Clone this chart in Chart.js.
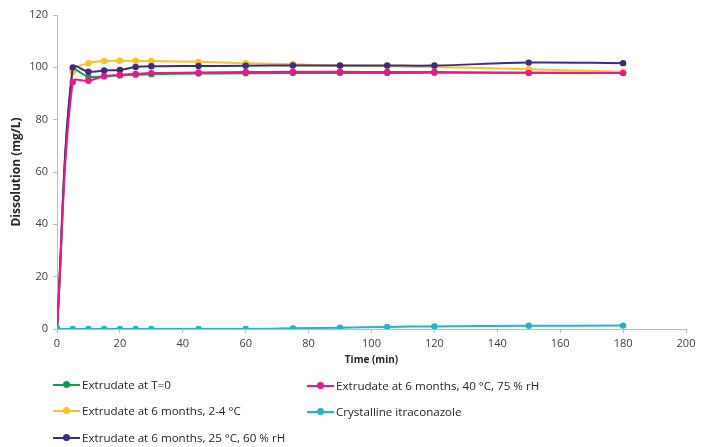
<!DOCTYPE html>
<html><head><meta charset="utf-8">
<script src="https://cdn.jsdelivr.net/npm/chart.js@4.4.1/dist/chart.umd.min.js"></script>
<style>
html,body{margin:0;padding:0;background:#fff;}
#wrap{position:relative;width:707px;height:447px;}
#c{position:absolute;left:0;top:0;}
.lg{position:absolute;font-family:"Open Sans",sans-serif;font-size:11.6px;color:#262626;white-space:nowrap;line-height:14px;}
.mk{position:absolute;width:27px;height:2px;}
.mk i{position:absolute;left:10px;top:-3px;width:7px;height:7px;border-radius:50%;}
.lg span.t{position:absolute;}
</style></head><body>
<div id="wrap"><canvas id="c" width="707" height="447"></canvas></div>
<script>
const times = [0,5,10,15,20,25,30,45,60,75,90,105,120,150,180];
const seriesNames = ["Extrudate at T=0","Extrudate at 6 months, 2-4 °C","Extrudate at 6 months, 25 °C, 60 % rH","Extrudate at 6 months, 40 °C, 75 % rH","Crystalline itraconazole"];
const extrudateT0 = [0,98.7,96.4,96.6,96.9,97.2,97.4,97.6,97.7,97.8,97.8,97.8,97.9,97.9,97.9];
const extrudate24 = [0,98.3,101.6,102.4,102.5,102.5,102.4,102.1,101.6,101.2,100.6,100.4,100.1,99.3,98.3];
const extrudate25 = [0,100.0,98.3,98.8,99.0,100.1,100.4,100.5,100.6,100.7,100.7,100.7,100.7,101.8,101.6];
const extrudate40 = [0,94.4,94.9,96.6,97.1,97.5,97.8,98.0,98.2,98.3,98.3,98.2,98.2,97.9,97.8];
const crystalline = [0,0,0,0,0,0,0,0,0,0.25,0.5,0.8,1.0,1.25,1.3];
const xTicks = [0,20,40,60,80,100,120,140,160,180,200];
const yTicks = [0,20,40,60,80,100,120];
const colors = ["#139a4c","#fdc12a","#3e2b80","#e9188b","#22b5c8"];

const allSeries = [extrudateT0, extrudate24, extrudate25, extrudate40, crystalline];
const datasets = allSeries.map((vals,i)=>({
  label: seriesNames[i],
  data: times.map((t,j)=>({x:t,y:vals[j]})),
  borderColor: colors[i], backgroundColor: colors[i],
  pointBackgroundColor: colors[i], pointBorderColor: colors[i],
  borderWidth: 2, pointRadius: 3.2, pointBorderWidth: 0,
  tension: 0.35, fill:false, order: 5-i
}));

const tickFont = {family:"Open Sans", size:11};
new Chart(document.getElementById('c'), {
  type:'line',
  data:{datasets},
  options:{
    responsive:false, animation:false, devicePixelRatio:1,
    layout:{padding:{left:0,right:21,top:15,bottom:0}},
    plugins:{legend:{display:false}, tooltip:{enabled:false}},
    scales:{
      x:{type:'linear', min:0, max:200,
        afterBuildTicks:s=>{s.ticks = xTicks.map(v=>({value:v}));},
        afterFit:s=>{s.height = 118;},
        grid:{drawOnChartArea:false, drawTicks:true, tickLength:4, color:'#bdbdbd'},
        border:{color:'#bdbdbd', width:1},
        ticks:{font:tickFont, color:'#404040', padding:4, maxRotation:0, autoSkip:false},
        title:{display:true, text:'Time (min)', font:{family:"Open Sans", size:10, weight:'bold'}, color:'#262626', padding:{top:0,bottom:81}}
      },
      y:{min:0, max:120,
        afterBuildTicks:s=>{s.ticks = yTicks.map(v=>({value:v}));},
        afterFit:s=>{s.width = 57;},
        grid:{drawOnChartArea:false, drawTicks:true, tickLength:4, color:'#bdbdbd'},
        border:{color:'#bdbdbd', width:1},
        ticks:{font:tickFont, color:'#404040', padding:5, autoSkip:false},
        title:{display:true, text:'Dissolution (mg/L)', font:{family:"Open Sans", size:12, weight:'bold'}, color:'#262626', padding:{top:9,bottom:0}}
      }
    }
  }
});

// HTML legend
const legendPos = [[53,385],[53,411],[53,438],[307,386],[307,412]];
const wrap = document.getElementById('wrap');
seriesNames.forEach((n,i)=>{
  const [x,y] = legendPos[i];
  const d = document.createElement('div');
  d.className='lg'; d.style.left=x+'px'; d.style.top=(y-7)+'px';
  d.innerHTML = '<div class="mk" style="top:6px;background:'+colors[i]+'"><i style="background:'+colors[i]+'"></i></div><span class="t" style="left:29px">'+n+'</span>';
  wrap.appendChild(d);
});
</script>
</body></html>
